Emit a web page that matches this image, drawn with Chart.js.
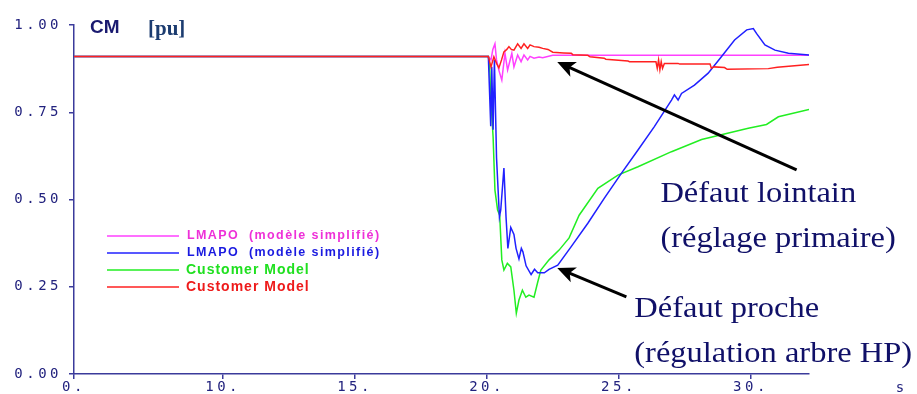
<!DOCTYPE html>
<html>
<head>
<meta charset="utf-8">
<script src="https://cdn.jsdelivr.net/npm/chart.js@4.4.1/dist/chart.umd.min.js"></script>
<style>
  html, body { margin: 0; padding: 0; background: #fff; }
  #wrap { width: 917px; height: 394px; }
</style>
</head>
<body>
<div id="wrap"><canvas id="cm-chart" width="917" height="394"></canvas></div>
<script>
// CM [pu] response after a fault at t = 20 s

const xTickValues = [4.35, 10, 15, 20, 25, 30];
const xTickLabels = ["0.", "10.", "15.", "20.", "25.", "30."];
const yTickValues = [0, 0.25, 0.5, 0.75, 1];
const yTickLabels = ["0.00", "0.25", "0.50", "0.75", "1.00"];

// [time s, CM pu]
const lmapoFar = [
  [4.35, 0.910], [20.05, 0.910], [20.15, 0.90], [20.22, 0.93], [20.30, 0.946], [20.36, 0.90],
  [20.45, 0.87], [20.56, 0.842], [20.68, 0.919], [20.78, 0.871], [20.94, 0.919], [21.02, 0.88],
  [21.16, 0.914], [21.29, 0.895], [21.40, 0.914], [21.54, 0.90], [21.63, 0.910], [21.78, 0.905],
  [21.97, 0.908], [22.11, 0.906], [22.49, 0.913], [32.2, 0.913]
];
const lmapoNear = [
  [4.35, 0.910], [20.05, 0.910], [20.14, 0.71], [20.18, 0.88], [20.23, 0.70], [20.28, 0.90],
  [20.36, 0.62], [20.47, 0.45], [20.52, 0.47], [20.64, 0.59], [20.72, 0.45], [20.79, 0.36],
  [20.90, 0.42], [21.02, 0.40], [21.10, 0.36], [21.21, 0.33], [21.30, 0.36], [21.36, 0.35],
  [21.48, 0.31], [21.67, 0.285], [21.80, 0.30], [21.92, 0.29], [22.17, 0.29], [22.35, 0.30],
  [22.68, 0.312], [23.19, 0.365], [23.82, 0.432], [24.44, 0.503], [25.09, 0.575], [25.72, 0.642],
  [26.34, 0.709], [26.99, 0.785], [27.10, 0.80], [27.24, 0.785], [27.37, 0.804], [27.86, 0.828],
  [28.38, 0.862], [28.88, 0.909], [29.38, 0.957], [29.84, 0.986], [30.09, 0.99], [30.21, 0.976],
  [30.53, 0.943], [30.91, 0.928], [31.42, 0.919], [32.2, 0.914]
];
const customerNear = [
  [4.35, 0.910], [20.05, 0.910], [20.10, 0.88], [20.14, 0.79], [20.23, 0.68], [20.30, 0.527],
  [20.40, 0.47], [20.48, 0.455], [20.56, 0.327], [20.64, 0.298], [20.77, 0.317], [20.90, 0.307],
  [21.02, 0.24], [21.11, 0.174], [21.21, 0.212], [21.34, 0.24], [21.47, 0.22], [21.59, 0.226],
  [21.78, 0.22], [21.91, 0.26], [22.04, 0.298], [22.35, 0.327], [22.73, 0.355], [23.11, 0.39],
  [23.49, 0.455], [24.20, 0.532], [24.96, 0.57], [25.72, 0.594], [26.99, 0.637], [28.13, 0.672],
  [29.90, 0.704], [30.59, 0.715], [31.04, 0.737], [32.2, 0.758]
];
const customerFar = [
  [4.35, 0.910], [20.05, 0.910], [20.15, 0.88], [20.26, 0.909], [20.36, 0.89], [20.45, 0.877],
  [20.55, 0.90], [20.64, 0.923], [20.75, 0.93], [20.83, 0.938], [20.92, 0.93], [21.02, 0.928],
  [21.16, 0.946], [21.29, 0.933], [21.40, 0.946], [21.54, 0.933], [21.63, 0.943], [21.78, 0.938],
  [21.97, 0.936], [22.11, 0.933], [22.31, 0.930], [22.49, 0.922], [22.9, 0.920], [23.19, 0.919],
  [23.25, 0.915], [23.82, 0.913], [23.9, 0.909], [24.44, 0.905], [24.5, 0.902], [25.34, 0.897],
  [25.4, 0.895], [26.40, 0.895], [26.45, 0.876], [26.5, 0.90], [26.55, 0.872], [26.6, 0.895],
  [26.65, 0.876], [26.72, 0.890], [27.24, 0.890], [27.3, 0.888], [28.45, 0.888], [28.5, 0.876],
  [28.6, 0.880], [29.0, 0.878], [29.1, 0.873], [30.66, 0.875], [31.0, 0.879], [32.2, 0.887]
];

const legendMain = ["LMAPO", "LMAPO", "Customer Model", "Customer Model"];
const legendNote = ["(modèle simplifié)", "(modèle simplifié)", "", ""];
const lineColors = ["#ff40ff", "#2020ff", "#22ee22", "#ff2020"];
const textColors = ["#ee30d8", "#1a1ae0", "#20e020", "#ee1a1a"];

// arrows / callouts in data units [time, pu]
const arrowFrom = [[31.73, 0.585], [25.28, 0.221]];
const arrowTo = [[22.66, 0.894], [22.66, 0.304]];
const calloutAt = [[26.57, 0.493], [25.58, 0.164]];
const calloutLines = [["Défaut lointain", "(réglage primaire)"], ["Défaut proche", "(régulation arbre HP)"]];

const axisColor = "#3b3b9b";
const tickColor = "#22227e";
const noteColor = "#101068";

const toXY = pts => pts.map(p => ({ x: p[0], y: p[1] }));

function drawArrow(ctx, x1, y1, x2, y2) {
  const ang = Math.atan2(y2 - y1, x2 - x1);
  const c = Math.cos(ang), s = Math.sin(ang);
  const headLen = 18, headW = 8;
  const bx = x2 - headLen * c, by = y2 - headLen * s;
  ctx.beginPath();
  ctx.moveTo(x1, y1);
  ctx.lineTo(x2 - headLen * 0.7 * c, y2 - headLen * 0.7 * s);
  ctx.stroke();
  ctx.beginPath();
  ctx.moveTo(x2, y2);
  ctx.lineTo(bx + headW * s, by - headW * c);
  ctx.lineTo(x2 - headLen * 0.75 * c, y2 - headLen * 0.75 * s);
  ctx.lineTo(bx - headW * s, by + headW * c);
  ctx.closePath();
  ctx.fill();
}

const decorations = {
  id: "decorations",
  beforeDraw(chart) {
    chart.ctx.letterSpacing = "3.5px";
  },
  beforeDatasetsDraw(chart) {
    chart.ctx.letterSpacing = "0px";
  },
  afterDraw(chart) {
    const ctx = chart.ctx;
    const xs = chart.scales.x, ys = chart.scales.y;
    ctx.save();

    // axis unit "s"
    ctx.letterSpacing = "0px";
    ctx.fillStyle = tickColor;
    ctx.font = "14px 'DejaVu Sans Mono'";
    ctx.textAlign = "center";
    ctx.textBaseline = "middle";
    ctx.fillText("s", 900, 388);

    // title
    ctx.textAlign = "left";
    ctx.textBaseline = "alphabetic";
    ctx.fillStyle = "#1a1a70";
    ctx.font = "bold 19px 'Liberation Sans'";
    ctx.fillText("CM", 90, 33);
    ctx.fillStyle = "#1c3c70";
    ctx.font = "bold 21px 'Liberation Serif'";
    ctx.fillText("[pu]", 148, 35);

    // legend
    const baseY = [239, 256, 274, 291];
    const lineY = [236, 253, 270, 287];
    chart.data.datasets.forEach((ds, i) => {
      ctx.strokeStyle = ds.borderColor;
      ctx.lineWidth = 1.5;
      ctx.beginPath();
      ctx.moveTo(107, lineY[i]);
      ctx.lineTo(179, lineY[i]);
      ctx.stroke();
      ctx.fillStyle = textColors[i];
      if (legendNote[i]) {
        ctx.font = "bold 12.5px 'Liberation Sans'";
        ctx.letterSpacing = "1.4px";
        ctx.fillText(legendMain[i], 187, baseY[i]);
        ctx.fillText(legendNote[i], 249, baseY[i]);
      } else {
        ctx.font = "bold 14px 'Liberation Sans'";
        ctx.letterSpacing = "1px";
        ctx.fillText(legendMain[i], 186, baseY[i]);
      }
    });
    ctx.letterSpacing = "0px";

    // arrows
    ctx.strokeStyle = "#000";
    ctx.fillStyle = "#000";
    ctx.lineWidth = 3;
    arrowFrom.forEach((f, i) => {
      drawArrow(ctx,
        xs.getPixelForValue(f[0]), ys.getPixelForValue(f[1]),
        xs.getPixelForValue(arrowTo[i][0]), ys.getPixelForValue(arrowTo[i][1]));
    });

    // callouts
    ctx.fillStyle = noteColor;
    ctx.font = "29px 'Liberation Serif'";
    calloutAt.forEach((a, i) => {
      const px = xs.getPixelForValue(a[0]);
      const py = ys.getPixelForValue(a[1]);
      calloutLines[i].forEach((txt, j) => {
        ctx.save();
        ctx.translate(px, py + j * 45);
        ctx.scale(1.12, 1);
        ctx.fillText(txt, 0, 0);
        ctx.restore();
      });
    });

    ctx.restore();
  }
};

new Chart(document.getElementById("cm-chart").getContext("2d"), {
  type: "line",
  data: {
    datasets: [
      { label: legendMain[0], data: toXY(lmapoFar), borderColor: lineColors[0], order: 4 },
      { label: legendMain[1], data: toXY(lmapoNear), borderColor: lineColors[1], order: 2 },
      { label: legendMain[2], data: toXY(customerNear), borderColor: lineColors[2], order: 3 },
      { label: legendMain[3], data: toXY(customerFar), borderColor: lineColors[3], order: 1 }
    ].map(ds => Object.assign(ds, { borderWidth: 1.5, pointRadius: 0, tension: 0, fill: false }))
  },
  options: {
    responsive: false,
    animation: false,
    layout: { padding: { top: 25, right: 108, left: 0, bottom: 0 } },
    plugins: { legend: { display: false }, tooltip: { enabled: false } },
    scales: {
      x: {
        type: "linear",
        min: xTickValues[0],
        max: 32.2,
        afterBuildTicks: s => { s.ticks = xTickValues.map(v => ({ value: v })); },
        afterFit: s => { s.height = 20; },
        grid: { drawOnChartArea: false, tickLength: 5, color: axisColor, lineWidth: 1.5 },
        border: { color: axisColor, width: 1.5 },
        ticks: {
          callback: (v, i) => xTickLabels[i],
          color: tickColor,
          font: { family: "'DejaVu Sans Mono'", size: 14 },
          padding: 0,
          maxRotation: 0,
          autoSkip: false
        }
      },
      y: {
        min: 0,
        max: 1,
        afterBuildTicks: s => { s.ticks = yTickValues.map(v => ({ value: v })); },
        afterFit: s => { s.width = 74; },
        grid: { drawOnChartArea: false, tickLength: 5, color: axisColor, lineWidth: 1.5 },
        border: { color: axisColor, width: 1.5 },
        ticks: {
          callback: (v, i) => yTickLabels[i],
          color: tickColor,
          font: { family: "'DejaVu Sans Mono'", size: 14 },
          padding: 7
        }
      }
    }
  },
  plugins: [decorations]
});
</script>
</body>
</html>
